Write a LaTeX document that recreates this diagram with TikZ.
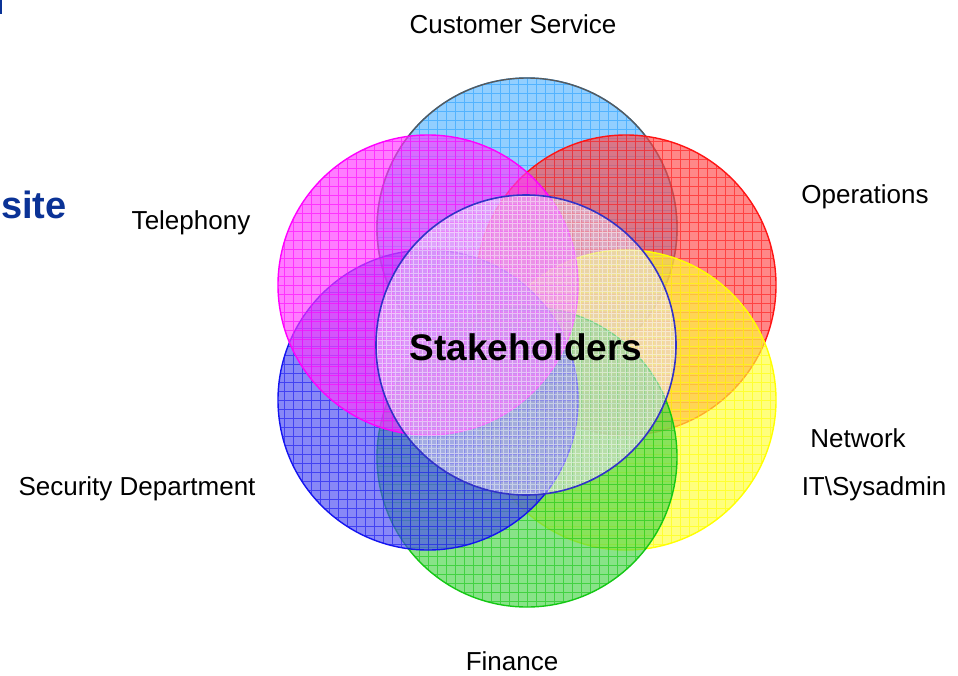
\documentclass[tikz,border=0pt]{standalone}
\usepackage{fontspec}
\setmainfont{Liberation Sans}
\begin{document}
\begin{tikzpicture}[x=1pt,y=-1pt,
  ring/.style={circle, minimum size=300pt, inner sep=0pt, line width=1.4pt,
    draw=#1, fill=#1!78, fill opacity=0.65,
    path picture={\draw[#1, line width=0.6pt, draw opacity=0.6, step=9pt]
      (path picture bounding box.south west) grid (path picture bounding box.north east);}},
  lab/.style={font=\fontsize{26}{30}\selectfont, text=black, inner sep=0pt},
]
\useasboundingbox (0,0) rectangle (958,675);
\definecolor{csblue}{RGB}{40,160,255}
\definecolor{opred}{RGB}{255,20,20}
\definecolor{netyel}{RGB}{255,255,0}
\definecolor{fingreen}{RGB}{20,200,20}
\definecolor{secblue}{RGB}{20,20,240}
\definecolor{telmag}{RGB}{255,0,255}
\definecolor{cenblue}{RGB}{50,50,200}
\definecolor{sitecol}{RGB}{10,50,150}

\fill[sitecol] (0,0) rectangle (1.7,14);
\node[anchor=west, inner sep=0pt, text=sitecol, font=\fontsize{38}{42}\bfseries\selectfont] (site) at (1,205) {site};

\node[ring=csblue] (cs) at (527,228) {};
\draw[line width=1.4pt, black!65] (cs.center) circle (150pt);
\node[ring=opred] (ops) at (626,285) {};
\node[ring=netyel] (net) at (626,400) {};
\node[ring=fingreen] (fin) at (527,457) {};
\node[ring=secblue] (sec) at (428,400) {};
\node[ring=telmag] (tel) at (428,285) {};
\node[circle, minimum size=300pt, inner sep=0pt, line width=1.6pt, draw=cenblue,
  fill={rgb,255:red,230;green,218;blue,250}, fill opacity=0.5,
  path picture={\draw[white, line width=0.5pt, draw opacity=0.45, step=4.5pt]
      (path picture bounding box.south west) grid (path picture bounding box.north east);}]
  (stake) at (526,345) {};
\node[font=\fontsize{37}{42}\bfseries\selectfont, inner sep=0pt] (stl) at (526,347) {Stakeholders};

\node[lab] (lcs) at (513,24) {Customer Service};
\node[lab] (lops) at (865,197) {Operations};
\node[lab] (ltel) at (191,223) {Telephony};
\node[lab] (lnet) at (858,438) {Network};
\node[lab] (lit) at (874,489) {IT\textbackslash Sysadmin};
\node[lab] (lsec) at (137,489) {Security Department};
\node[lab] (lfin) at (512,661) {Finance};
\end{tikzpicture}
\end{document}
